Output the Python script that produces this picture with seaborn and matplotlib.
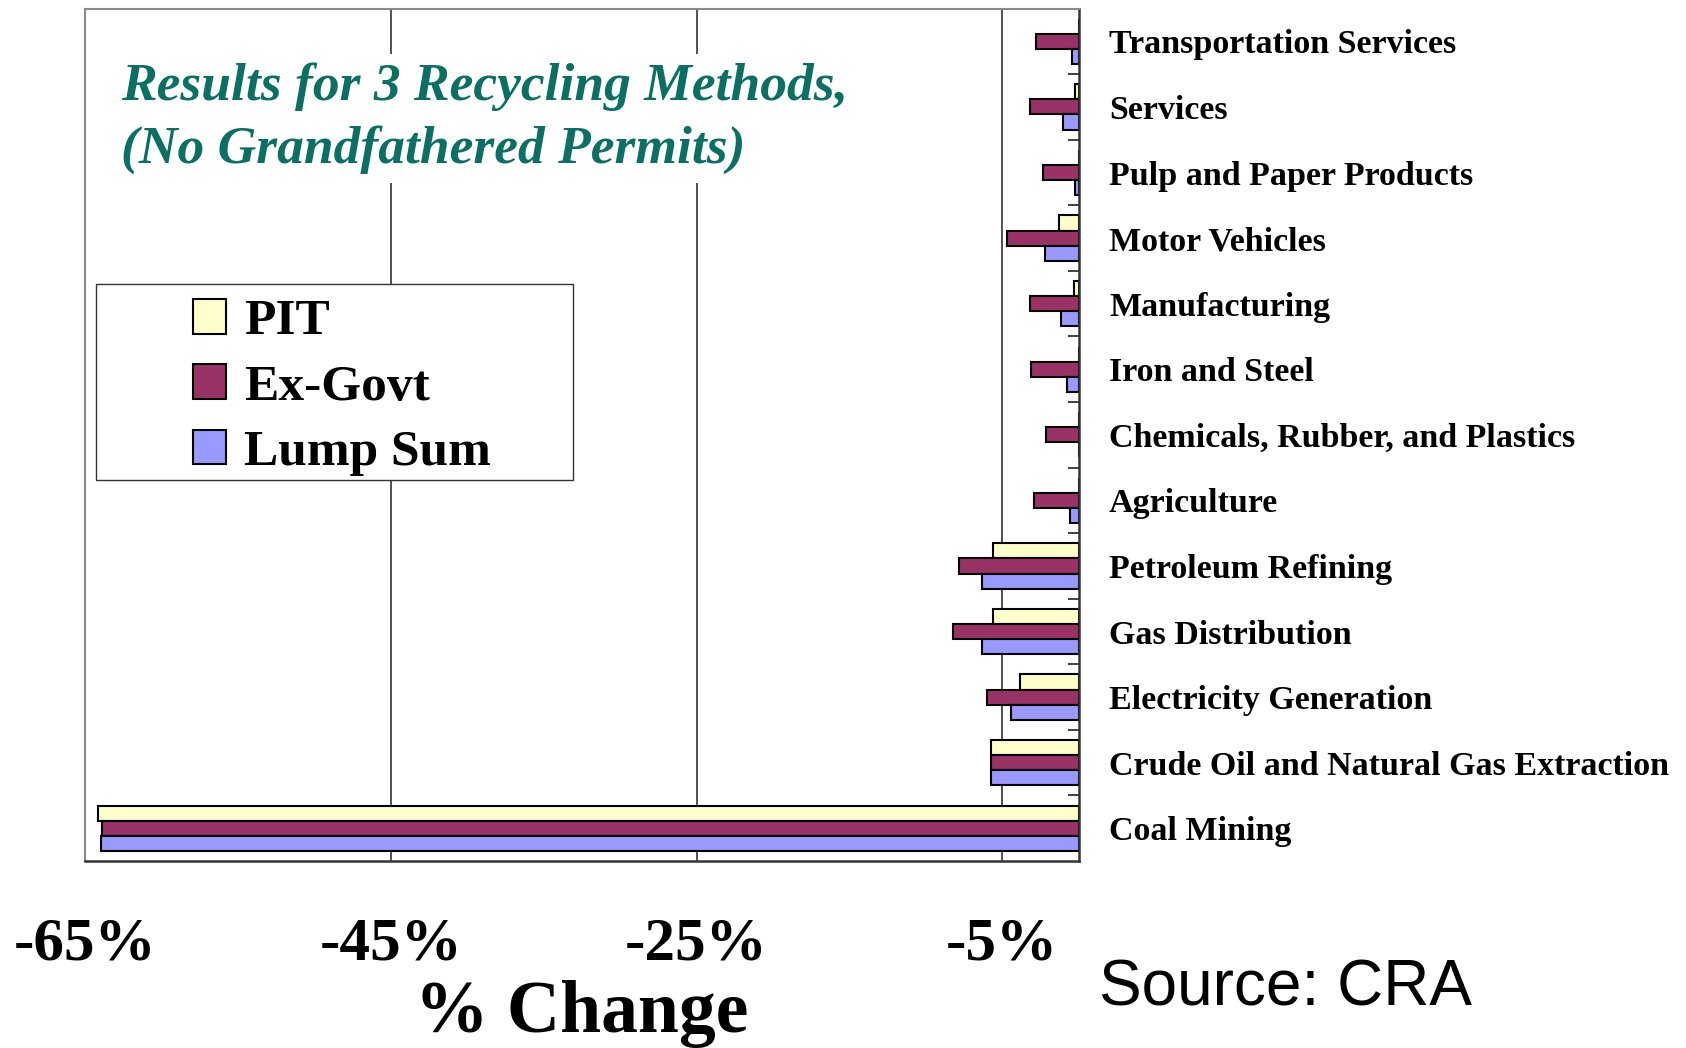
import matplotlib
matplotlib.use("Agg")
import matplotlib.pyplot as plt
import seaborn as sns
import pandas as pd
from matplotlib.ticker import FixedLocator
from matplotlib.patches import Rectangle

categories = ["Transportation Services", "Services", "Pulp and Paper Products",
              "Motor Vehicles", "Manufacturing", "Iron and Steel",
              "Chemicals, Rubber, and Plastics", "Agriculture", "Petroleum Refining",
              "Gas Distribution", "Electricity Generation",
              "Crude Oil and Natural Gas Extraction", "Coal Mining"]
series = ["PIT", "Ex-Govt", "Lump Sum"]
pit = [0.0, -0.2, 0.0, -1.3, -0.3, 0.0, 0.0, 0.0, -5.6, -5.6, -3.8, -5.7, -64.2]
exgovt = [-2.8, -3.2, -2.35, -4.7, -3.2, -3.1, -2.1, -2.9, -7.8, -8.2, -6.0, -5.7, -63.9]
lump = [-0.45, -1.0, -0.2, -2.2, -1.15, -0.75, 0.0, -0.55, -6.3, -6.3, -4.4, -5.7, -64.0]
xticks = [-65, -45, -25, -5]
xtick_labels = ["-65%", "-45%", "-25%", "-5%"]
colors = ["#FFFFCC", "#993366", "#9999FF"]

df = pd.DataFrame({
    "Sector": categories * 3,
    "Method": [series[0]] * len(categories) + [series[1]] * len(categories) + [series[2]] * len(categories),
    "Change": pit + exgovt + lump,
})

sns.set_theme(style="white")
plt.rcParams["font.family"] = ["Liberation Serif", "DejaVu Serif"]
plt.rcParams["text.color"] = "black"
plt.rcParams["axes.labelcolor"] = "black"
plt.rcParams["xtick.color"] = "black"
plt.rcParams["ytick.color"] = "black"

fig = plt.figure(figsize=(16.86, 10.48), dpi=100)
ax = fig.add_axes([0.0507, 0.1784, 0.589, 0.8134])

sns.barplot(data=df, y="Sector", x="Change", hue="Method", order=categories,
            hue_order=series, palette=colors, orient="h", width=0.69,
            edgecolor="black", linewidth=1.5, ax=ax, legend=True, saturation=1)

ax.set_xlim(-65, 0)
ax.set_ylim(len(categories) - 0.5, -0.5)

for xv in [-45, -25, -5]:
    ax.axvline(xv, color="#222222", lw=1.1, zorder=0)

ax.set_xticks(xticks)
ax.set_xticklabels(xtick_labels, fontsize=44, fontweight="bold")
ax.tick_params(axis="x", direction="out", length=12, width=1.2, pad=28, color="#222222")
ax.set_xlabel("% Change", fontsize=53, fontweight="bold", labelpad=0)
ax.xaxis.set_label_coords(0.5, -0.139)
ax.set_ylabel("")

ax.yaxis.tick_right()
ax.set_yticks(range(len(categories)))
ax.set_yticklabels(categories, fontsize=24.5, fontweight="bold")
ax.yaxis.set_minor_locator(FixedLocator([i + 0.5 for i in range(len(categories) - 1)]))
ax.tick_params(axis="y", which="major", length=0, pad=22)
ax.tick_params(axis="y", which="minor", right=True, left=False, direction="in",
               length=8, width=1.2, color="#222222")

for s in ["left", "top"]:
    ax.spines[s].set_color("#8a8a8a")
    ax.spines[s].set_linewidth(1.5)
for s in ["right", "bottom"]:
    ax.spines[s].set_color("#333333")
    ax.spines[s].set_linewidth(1.8)

# legend frame (box drawn separately, entries indented as in reference)
box = Rectangle((0.0108, 0.447), 0.480, 0.230, transform=ax.transAxes,
                facecolor="white", edgecolor="#333333", linewidth=1.0, zorder=4)
ax.add_patch(box)
handles, labels = ax.get_legend_handles_labels()
leg = ax.legend(handles, labels, loc="upper left", bbox_to_anchor=(0.108, 0.659),
                prop={"family": "Liberation Serif", "weight": "bold", "size": 37},
                frameon=False, borderpad=0.0, labelspacing=0.37, handlelength=0.65,
                handleheight=0.65, handletextpad=0.35, borderaxespad=0)
leg.set_zorder(5)

ax.text(0.036, 0.937, "Results for 3 Recycling Methods,\n(No Grandfathered Permits)",
        transform=ax.transAxes, fontsize=38.5, fontweight="bold", fontstyle="italic",
        color="#0B7063", ha="left", va="top", linespacing=1.38, zorder=6,
        bbox=dict(facecolor="white", edgecolor="none", pad=6))

fig.text(0.652, 0.057, "Source: CRA", fontsize=46, family="Liberation Sans",
         ha="left", va="center", color="black")

fig.savefig("out.png", dpi=100, facecolor="white")
